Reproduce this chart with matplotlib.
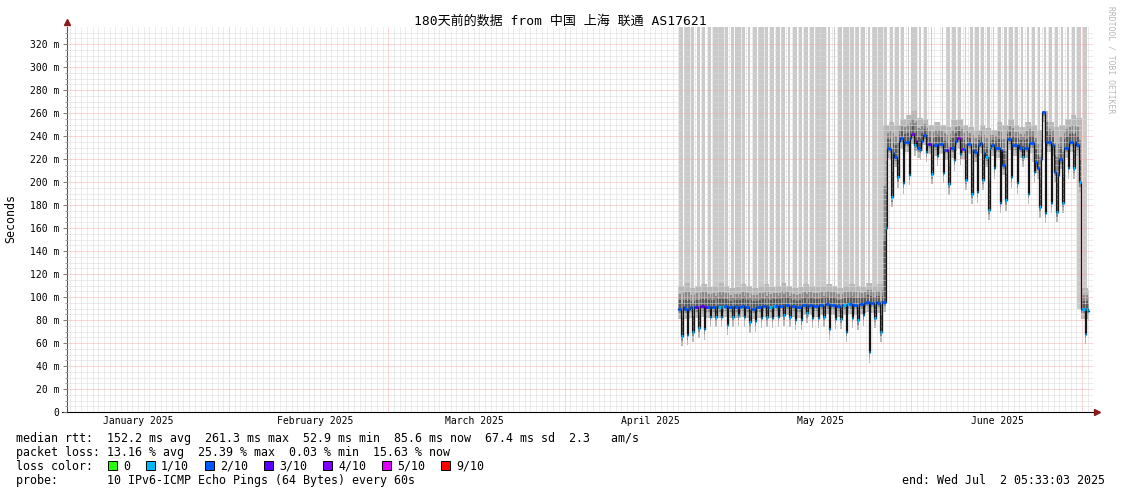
import numpy as np
import matplotlib
matplotlib.use("Agg")
import matplotlib.pyplot as plt
import matplotlib.dates as mdates
from matplotlib.ticker import NullFormatter
from matplotlib.patches import Rectangle
from datetime import datetime

W, H = 1121, 494

# graph window / end stamp / first day that has data
t_left = datetime(2025, 1, 3, 12, 20)
t_right = datetime(2025, 7, 2, 22, 25)
t_end = datetime(2025, 7, 2, 5, 33, 3)
first_day = datetime(2025, 4, 21)

# one entry per day from Apr 21: median rtt (ms) before the daily dip, at the dip, after it
med_am = [90, 90, 91, 91, 92, 91, 91, 91, 92, 91,
          91, 92, 91, 90, 91, 92, 91, 92, 92, 93,
          92, 91, 93, 93, 92, 93, 94, 93, 92, 93,
          94, 93, 94, 96, 95, 95, 96, 229, 222, 238,
          235, 242, 230, 241, 233, 232, 233, 228, 230, 238,
          229, 233, 226, 234, 222, 232, 230, 215, 237, 232,
          230, 230, 234, 212, 261, 235, 209, 220, 230, 235,
          232, 90, 88]
med_dip = [66, 67, 70, 73, 72, 83, 83, 83, 76, 83,
           84, 83, 78, 79, 82, 83, 82, 83, 84, 83,
           80, 80, 86, 82, 82, 83, 72, 81, 81, 70,
           82, 80, 84, 52, 82, 70, 160, 187, 204, 199,
           206, 232, 228, 226, 207, 223, 208, 198, 219, 224,
           202, 190, 191, 202, 176, 212, 182, 184, 204, 199,
           222, 190, 209, 178, 173, 182, 174, 182, 212, 212,
           200, 68, 88]
med_pm = [91, 90, 91, 92, 91, 91, 92, 91, 91, 92,
          91, 91, 90, 91, 92, 91, 92, 92, 93, 92,
          91, 93, 92, 92, 93, 94, 93, 92, 93, 94,
          93, 94, 95, 95, 96, 96, 230, 225, 236, 235,
          238, 236, 236, 233, 232, 233, 228, 230, 236, 229,
          233, 228, 232, 225, 230, 230, 228, 237, 232, 232,
          230, 234, 217, 220, 235, 232, 206, 230, 235, 235,
          90, 90, 88]
# loss (tenths) shown on the median outside the dips
loss_am = [2, 2, 2, 3, 3, 2, 2, 1, 2, 2,
           2, 2, 2, 2, 2, 2, 1, 2, 2, 2,
           2, 2, 2, 2, 2, 2, 2, 2, 2, 1,
           2, 2, 2, 2, 2, 2, 2, 2, 2, 2,
           2, 4, 2, 2, 3, 2, 2, 3, 2, 4,
           2, 2, 2, 2, 1, 2, 2, 2, 2, 2,
           2, 2, 2, 2, 2, 2, 2, 2, 2, 2,
           2, 1, 1]
# upper edge of the smoke (ms)
smoke_top = [110, 112, 108, 110, 111, 109, 110, 112, 110, 108,
             109, 111, 110, 108, 110, 111, 109, 110, 112, 110,
             108, 109, 111, 110, 109, 110, 111, 110, 108, 110,
             111, 110, 109, 112, 110, 111, 250, 252, 250, 255,
             258, 262, 256, 255, 250, 252, 250, 248, 254, 255,
             250, 248, 245, 250, 247, 245, 252, 250, 255, 250,
             248, 252, 250, 245, 262, 252, 248, 250, 255, 258,
             256, 108, 106]
# share of each day where some pings went off the top of the graph
stripe_frac = [0.6, 1.0, 0.6, 0.55, 0.5, 0.5, 0.9, 1.0, 0.5, 0.5,
               0.9, 0.5, 0.3, 0.7, 1.0, 0.4, 0.7, 0.7, 0.7, 0.3,
               0.65, 0.6, 0.6, 0.7, 1.0, 1.0, 0.4, 0.3, 0.7, 1.0,
               0.7, 0.7, 0.7, 0.4, 0.75, 0.9, 0.5, 0.4, 0.6, 0.5,
               0.1, 1.0, 0.4, 0.4, 0.2, 0.0, 0.1, 0.7, 0.6, 0.5,
               0.25, 0.5, 0.6, 0.6, 0.55, 0.2, 0.45, 0.6, 0.6, 0.55,
               0.35, 0.4, 0.6, 0.4, 0.5, 0.6, 0.5, 0.4, 0.4, 0.6,
               0.6, 0.6, 0.0]

loss_colors = {0: '#26ff00', 1: '#00b8ff', 2: '#0059ff', 3: '#5e00ff',
               4: '#7e00ff', 5: '#dd00ff', 9: '#ff0000'}
legend_loss = [0, 1, 2, 3, 4, 5, 9]
legend_labels = ['0', '1/10', '2/10', '3/10', '4/10', '5/10', '9/10']

y_ticks = list(range(0, 321, 20))
y_labels = [('%d m' % v) if v else '0' for v in y_ticks]
month_names = ['January 2025', 'February 2025', 'March 2025',
               'April 2025', 'May 2025', 'June 2025']
month_mid = [datetime(2025, m, 16, 2) for m in range(1, 7)]

title = '180天前的数据 from 中国 上海 联通 AS17621'
line_rtt = 'median rtt:  152.2 ms avg  261.3 ms max  52.9 ms min  85.6 ms now  67.4 ms sd  2.3   am/s'
line_loss = 'packet loss: 13.16 % avg  25.39 % max  0.03 % min  15.63 % now'
line_probe = 'probe:       10 IPv6-ICMP Echo Pings (64 Bytes) every 60s'
line_end = 'end: Wed Jul  2 05:33:03 2025'

plt.rcParams['font.family'] = ['DejaVu Sans Mono', 'Noto Sans CJK SC']

fig = plt.figure(figsize=(W / 100, H / 100), dpi=100)
ax = fig.add_axes([67 / W, 82 / H, (1093 - 67) / W, (412 - 27) / H])
ytop = 334.8

# build the step series: am / dip / pm inside every day
x0 = mdates.date2num(first_day)
xend = mdates.date2num(t_end)
ts, vs, cs, tops = [], [], [], []
for k in range(len(med_am)):
    for off, v, c in ((0.0, med_am[k], loss_am[k]), (0.5, med_dip[k], 1), (0.75, med_pm[k], loss_am[k])):
        ts.append(x0 + k + off)
        vs.append(v)
        cs.append(c)
        tops.append(smoke_top[k])
ts = np.array(ts)
vs = np.array(vs, float)
tops = np.array(tops, float)
cs = np.array(cs)
keep = ts < xend
ts, vs, tops, cs = ts[keep], vs[keep], tops[keep], cs[keep]
edges = np.append(ts, xend)
v_e = np.append(vs, vs[-1])
top_e = np.append(tops, tops[-1])

# pale full height stripes
bot = np.minimum(med_am, med_pm)
xs = x0 + np.arange(len(stripe_frac)) + 0.5
ax.bar(xs, ytop - bot, bottom=bot, width=stripe_frac, color='#cacaca', linewidth=0, zorder=1)

# smoke, light to dark
ax.fill_between(edges, v_e - 9, top_e, step='post', color='#b8b8b8', lw=0, zorder=1.2)
ax.fill_between(edges, v_e - 4, v_e + 0.65 * (top_e - v_e), step='post', color='#8a8a8a', lw=0, zorder=1.3)
ax.fill_between(edges, v_e - 1, v_e + 0.35 * (top_e - v_e), step='post', color='#5a5a5a', lw=0, zorder=1.4)

# median: black line + loss coloured marks
ax.step(edges, v_e, where='post', color='#151515', lw=0.9, zorder=4)
ax.hlines(vs, ts, edges[1:], colors=[loss_colors[c] for c in cs], lw=2.2, zorder=5)

ax.set_ylim(0, ytop)
ax.set_xlim(mdates.date2num(t_left), mdates.date2num(t_right))
ax.set_yticks(y_ticks)
ax.set_yticklabels(y_labels)
ax.set_yticks(np.arange(0, ytop, 5), minor=True)
ax.xaxis.set_major_locator(mdates.MonthLocator())
ax.xaxis.set_minor_locator(mdates.DayLocator())
ax.xaxis.set_major_formatter(NullFormatter())
ax.set_axisbelow(False)
ax.grid(which='major', color='#f4b0b0', ls=(0, (1, 1)), lw=0.72)
ax.grid(which='minor', color='#dadada', ls=(0, (1, 1)), lw=0.72)
ax.tick_params(axis='x', which='both', length=0)
ax.tick_params(axis='y', which='major', length=3, width=0.7, color='#777777',
               labelsize=7, pad=2.5)
ax.tick_params(axis='y', which='minor', length=1.5, width=0.7, color='#999999')

for s in ['top', 'right']:
    ax.spines[s].set_visible(False)
ax.spines['left'].set_color('#555555')
ax.spines['left'].set_linewidth(0.8)
ax.spines['bottom'].set_color('black')
ax.spines['bottom'].set_linewidth(0.8)
ax.plot([-5 / 1026, 0], [0, 0], transform=ax.transAxes, clip_on=False, color='black', lw=0.8)
ax.plot([1 + 4 / 1026], [0], marker='>', ms=4, color='#8b1a1a', transform=ax.transAxes, clip_on=False)
ax.plot([0], [1 + 5 / 385], marker='^', ms=4, color='#8b1a1a', transform=ax.transAxes, clip_on=False)

for name, d in zip(month_names, month_mid):
    ax.text(mdates.date2num(d), -9 / 385, name, transform=ax.get_xaxis_transform(),
            ha='center', va='center', fontsize=7)


def fx(x):
    return x / W


def fy(y):
    return 1 - y / H


fig.text(fx(560), fy(21), title, fontsize=9.4, ha='center', va='center')
fig.text(fx(11), fy(218), 'Seconds', rotation=90, fontsize=8.4, ha='center', va='center')
fig.text(fx(1111), fy(60), 'RRDTOOL / TOBI OETIKER', rotation=270, fontsize=5.8,
         color='#b8b8b8', ha='center', va='center')

fig.text(fx(16), fy(438), line_rtt, fontsize=8.4, va='center')
fig.text(fx(16), fy(452), line_loss, fontsize=8.4, va='center')
fig.text(fx(16), fy(466), 'loss color:', fontsize=8.4, va='center')
fig.text(fx(16), fy(480), line_probe, fontsize=8.4, va='center')
fig.text(fx(1105), fy(480), line_end, fontsize=8.4, va='center', ha='right')

sx = 108
for lv, lab in zip(legend_loss, legend_labels):
    fig.patches.append(Rectangle((fx(sx), fy(470)), 9 / W, 9 / H, transform=fig.transFigure,
                                 facecolor=loss_colors[lv], edgecolor='black', lw=0.7))
    fig.text(fx(sx + 15), fy(466), lab, fontsize=8.4, va='center')
    sx = sx + 15 + len(lab) * 7.02 + 16

fig.savefig('out.png', dpi=100)
